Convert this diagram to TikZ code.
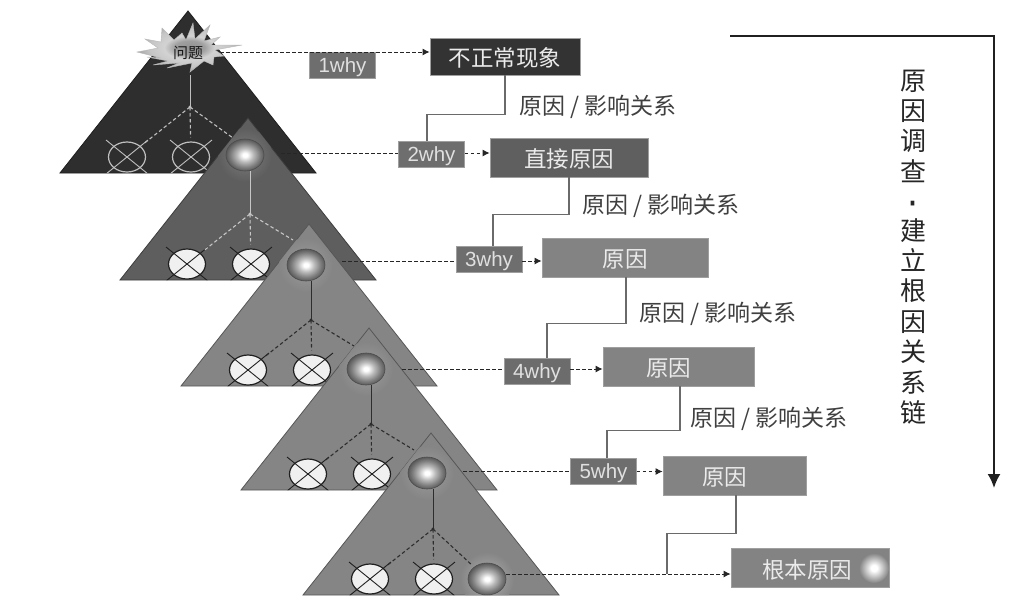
\documentclass[tikz,border=0pt]{standalone}
\usepackage{fontspec}
\setmainfont{Noto Sans CJK SC}
\newfontfamily\latinfont{Liberation Sans}
\usetikzlibrary{arrows.meta,calc,shapes.geometric}
\definecolor{tria}{HTML}{2E2E2E}
\definecolor{trib}{HTML}{5E5E5E}
\definecolor{tric}{HTML}{858585}
\definecolor{boxa}{HTML}{333333}
\definecolor{boxb}{HTML}{5F5F5F}
\definecolor{boxc}{HTML}{838383}
\definecolor{whybox}{HTML}{6E6E6E}
\definecolor{inklabel}{HTML}{404040}
\definecolor{chainink}{HTML}{6A6A6A}
\pgfdeclareradialshading{ballshade}{\pgfpoint{0bp}{0bp}}{color(0bp)=(white);color(3bp)=(white);color(11bp)=(gray!55);color(19bp)=(gray);color(25bp)=(gray!70!black);color(50bp)=(gray!70!black)}
\pgfdeclareradialshading{starshade}{\pgfpoint{0bp}{0bp}}{color(0bp)=(gray!85);color(7bp)=(gray!75);color(12bp)=(gray!35);color(19bp)=(gray!45);color(25bp)=(gray!70);color(50bp)=(gray!70)}
\pgfdeclareradialshading{glowshade}{\pgfpoint{0bp}{0bp}}{color(0bp)=(white);color(5bp)=(white);color(25bp)=(boxc);color(50bp)=(boxc)}
\tikzset{
  x=1pt,y=-1pt,
  ballnode/.style={ellipse,minimum width=38pt,minimum height=32pt,inner sep=0pt,shading=ballshade,draw=gray!60!black,line width=.6pt},
  leaf/.style={ellipse,minimum width=37pt,minimum height=30pt,inner sep=0pt,line width=1.2pt},
  why/.style={draw=gray!75,line width=.8pt,fill=whybox,text=white!88!black,minimum width=66pt,minimum height=26pt,inner sep=0pt,text height=14.5pt,text depth=0pt,font=\latinfont\fontsize{20.5}{24}\selectfont},
  res/.style={draw=gray!75,line width=.8pt,inner sep=0pt,text=white!92!black,text height=19pt,text depth=0pt,font=\fontsize{22.5}{26}\selectfont},
  link/.style={draw=gray!30!black,line width=1pt,dash pattern=on 3.5pt off 2.5pt},
  linkarrow/.style={link,-{Latex[length=7pt,width=7pt]}},
  tree/.style={line width=1.1pt,dash pattern=on 3.5pt off 2.5pt},
  chain/.style={draw=chainink,line width=1.3pt},
  caption/.style={text=inklabel,inner sep=0pt,font=\fontsize{23}{27}\selectfont},
  starbox/.style={minimum width=64pt,minimum height=44pt,inner sep=0pt},
}
\newcommand{\whytri}[8]{%
  \begin{scope}[shift={(#2,#3)}]
    \filldraw[fill=#4,draw=#4!65!black,line width=.8pt] (0,0) -- (128,162) -- (-128,162) -- cycle;
    \begin{scope}
      \clip (0,0) -- (128,162) -- (-128,162) -- cycle;
      #8
      \coordinate (j#1) at (2,96);
      \draw[#5,line width=.9pt] (j#1 |- b#1.south) -- (j#1);
      \fill[#5] (j#1) circle (1.6pt);
      \node[leaf,fill=#6,draw=#7] (u#1) at (-61,146) {};
      \node[leaf,fill=#6,draw=#7] (v#1) at (3,146) {};
      \foreach \n in {u#1,v#1}{
        \draw[#7,line width=.9pt] ($(\n)+(-21,-17)$) -- ($(\n)+(21,17)$);
        \draw[#7,line width=.9pt] ($(\n)+(21,-17)$) -- ($(\n)+(-21,17)$);
      }
      \draw[#5,tree,shorten >=4pt] (j#1) -- (u#1);
      \draw[#5,tree,shorten >=4pt] (j#1) -- (v#1);
    \end{scope}
  \end{scope}%
}
\begin{document}
\begin{tikzpicture}
\useasboundingbox (0,0) rectangle (1024,603);
\fill[white] (0,0) rectangle (1024,603);

% triangle 1
\whytri{1}{188}{11}{tria}{gray!50}{tria}{gray!50}{%
  \coordinate (t1) at (45,127);
  \node[starbox] (b1) at (0,42) {};
}
\draw[gray!50,tree] (j1) -- (t1);
\shadedraw[shading=starshade,draw=gray!55,line width=.4pt,shift={(188,53)}]
  (-51,-1) -- (-30,-5) -- (-43,-14) -- (-27,-11) -- (-26,-25) -- (-14,-13) -- (-6,-20) -- (-2,-13)
  -- (5,-30) -- (7,-14) -- (22,-28) -- (16,-12) -- (32,-16) -- (23,-8) -- (54,-8) -- (27,-3)
  -- (36,3) -- (26,4) -- (25,12) -- (16,8) -- (2,19) -- (4,10) -- (-21,15) -- (-9,10)
  -- (-35,12) -- (-20,8) -- (-41,4) -- (-27,5) -- cycle;
\node[inner sep=0pt,text=gray!20!black,font=\fontsize{15}{18}\selectfont] (q1) at (b1) {问题};

% triangle 2
\whytri{2}{248}{118}{trib}{gray!45}{white!94!black}{gray!25!black}{%
  \shade[inner color=trib!80!white,outer color=trib] (-3,37) circle (27);
  \coordinate (t2) at (45,122);
  \node[ballnode] (b2) at (-3,37) {};
}
\draw[gray!45,tree] (j2) -- (t2);

% triangle 3
\whytri{3}{309}{224}{tric}{gray!35!black}{white!94!black}{gray!25!black}{%
  \shade[inner color=tric!80!white,outer color=tric] (-3,41) circle (27);
  \coordinate (t3) at (45,122);
  \node[ballnode] (b3) at (-3,41) {};
}
\draw[gray!35!black,tree] (j3) -- (t3);

% triangle 4
\whytri{4}{369}{328}{tric}{gray!35!black}{white!94!black}{gray!25!black}{%
  \shade[inner color=tric!80!white,outer color=tric] (-3,41) circle (27);
  \coordinate (t4) at (45,122);
  \node[ballnode] (b4) at (-3,41) {};
}
\draw[gray!35!black,tree] (j4) -- (t4);

% triangle 5
\whytri{5}{431}{433}{tric}{gray!35!black}{white!94!black}{gray!25!black}{%
  \shade[inner color=tric!80!white,outer color=tric] (-4,40) circle (27);
  \shade[inner color=tric!65!white,outer color=tric] (56,146) circle (27);
  \node[ballnode] (b5) at (-4,40) {};
  \node[ballnode] (c5) at (56,146) {};
}
\draw[gray!35!black,tree,shorten >=3pt] (j5) -- (c5);

% result boxes
\node[res,fill=boxa,minimum width=150pt,minimum height=37pt] (r1) at (505,56.5) {不正常现象};
\node[res,fill=boxb,minimum width=158pt,minimum height=39pt] (r2) at (569,157.5) {直接原因};
\node[res,fill=boxc,minimum width=166pt,minimum height=39pt] (r3) at (625,257.5) {原因};
\node[res,fill=boxc,minimum width=151pt,minimum height=39pt] (r4) at (678.5,366.5) {\hspace*{-20pt}原因};
\node[res,fill=boxc,minimum width=143pt,minimum height=39pt] (r5) at (734.5,475.5) {\hspace*{-20pt}原因};
\node[res,fill=boxc,minimum width=158pt,minimum height=39pt] (r6) at (810,567.5) {};
\shade[shading=glowshade] (874,568) circle (15);
\node[res,draw=none] (r6t) at (807,569) {根本原因};

% why boxes
\node[why] (w1) at (342.5,65.5) {1why};
\node[why] (w2) at (431.5,154) {2why};
\node[why] (w3) at (489,259.5) {3why};
\node[why,fill=gray!85!black] (w4) at (537,371) {4why};
\node[why] (w5) at (603.5,471) {5why};

% level rows of the dashed links
\coordinate (y1) at (0,52);
\coordinate (y2) at (0,153);
\coordinate (y3) at (0,261);
\coordinate (y4) at (0,369);
\coordinate (y5) at (0,471.5);

% dashed links
\draw[linkarrow] (b1.east |- y1) -- (r1.west |- y1);
\draw[link,shorten <=17pt] (b2.east |- y2) -- (w2.west |- y2);
\draw[linkarrow] (w2.east |- y2) -- (r2.west |- y2);
\draw[link,shorten <=17pt] (b3.east |- y3) -- (w3.west |- y3);
\draw[linkarrow] (w3.east |- y3) -- (r3.west |- y3);
\draw[link,shorten <=17pt] (b4.east |- y4) -- (w4.west |- y4);
\draw[linkarrow] (w4.east |- y4) -- (r4.west |- y4);
\draw[link,shorten <=17pt] (b5.east |- y5) -- (w5.west |- y5);
\draw[linkarrow] (w5.east |- y5) -- (r5.west |- y5);
\coordinate (e5) at (667,574);
\draw[linkarrow] (c5.east |- e5) -- (r6.west |- e5);

% cause chain
\draw[chain] (r1.south) -- ++(0,39) -| ([xshift=-4.5pt]w2.north);
\draw[chain] (r2.south) -- ++(0,37) -| ([xshift=4pt]w3.north);
\draw[chain] (r3.south) ++(1,0) -- ++(0,46) -| ([xshift=10pt]w4.north);
\draw[chain] (r4.south) ++(1.5,0) -- ++(0,44) -| ([xshift=3.5pt]w5.north);
\draw[chain] (r5.south) ++(1.5,0) -- ++(0,38) -| (e5);

% captions
\node[caption] (c1) at (598,107) {原因 / 影响关系};
\node[caption] (c2) at (661,206) {原因 / 影响关系};
\node[caption] (c3) at (718,314) {原因 / 影响关系};
\node[caption] (c4) at (769,419) {原因 / 影响关系};

% investigation arrow
\coordinate (a0) at (730,36);
\coordinate (a1) at (994,36);
\coordinate (a2) at (994,488);
\draw[gray!25!black,line width=2pt,-{Latex[length=14pt,width=13pt]}] (a0) -- (a1) -- (a2);
\node[text=black!85,inner sep=0pt,align=center,font=\fontsize{26}{30.4}\selectfont] (vt) at (913,247) {原\\因\\调\\查\\\raisebox{-11pt}[8pt][0pt]{\scalebox{.55}[2.6]{-}}\\[-2pt]建\\立\\根\\因\\关\\系\\链};
\end{tikzpicture}
\end{document}
